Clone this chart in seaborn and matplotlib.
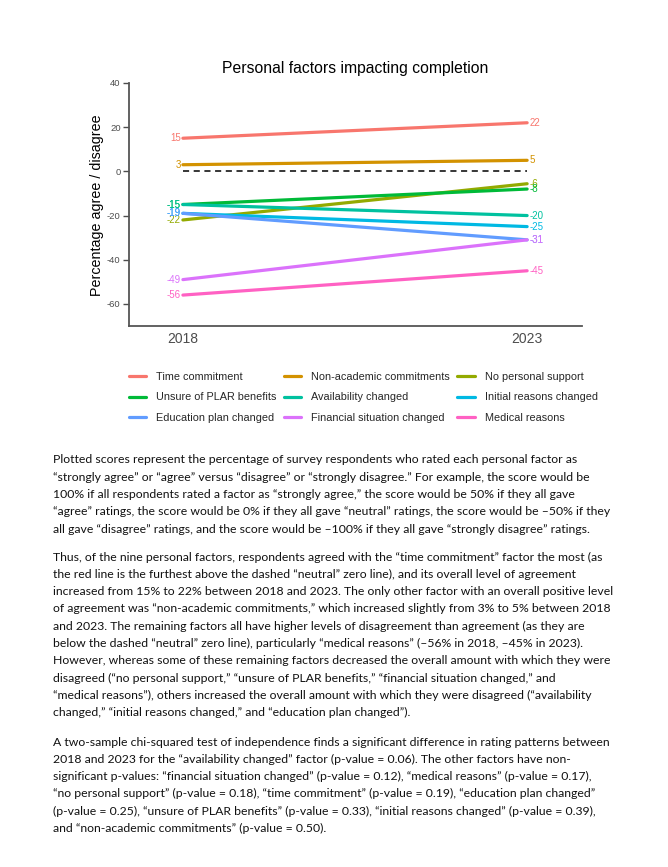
import numpy as np
import pandas as pd
import matplotlib
matplotlib.use("Agg")
import matplotlib.pyplot as plt
import seaborn as sns

# data
factors = ["Time commitment", "Non-academic commitments", "No personal support",
           "Unsure of PLAR benefits", "Availability changed", "Initial reasons changed",
           "Education plan changed", "Financial situation changed", "Medical reasons"]
years = [2018, 2023]
score_2018 = [15, 3, -22, -15, -15, -19, -19, -49, -56]
score_2023 = [22, 5, -5.6, -8, -20, -25, -31, -31, -45]
colors = ["#F8766D", "#D39200", "#93AA00", "#00BA38", "#00C19F",
          "#00B9E3", "#619CFF", "#DB72FB", "#FF61C3"]
yticks = [40, 20, 0, -20, -40, -60]

para1 = [
    "Plotted scores represent the percentage of survey respondents who rated each personal factor as",
    "\u201cstrongly agree\u201d or \u201cagree\u201d versus \u201cdisagree\u201d or \u201cstrongly disagree.\u201d For example, the score would be",
    "100% if all respondents rated a factor as \u201cstrongly agree,\u201d the score would be 50% if they all gave",
    "\u201cagree\u201d ratings, the score would be 0% if they all gave \u201cneutral\u201d ratings, the score would be \u201350% if they",
    "all gave \u201cdisagree\u201d ratings, and the score would be \u2013100% if they all gave \u201cstrongly disagree\u201d ratings.",
]
para2 = [
    "Thus, of the nine personal factors, respondents agreed with the \u201ctime commitment\u201d factor the most (as",
    "the red line is the furthest above the dashed \u201cneutral\u201d zero line), and its overall level of agreement",
    "increased from 15% to 22% between 2018 and 2023. The only other factor with an overall positive level",
    "of agreement was \u201cnon-academic commitments,\u201d which increased slightly from 3% to 5% between 2018",
    "and 2023. The remaining factors all have higher levels of disagreement than agreement (as they are",
    "below the dashed \u201cneutral\u201d zero line), particularly \u201cmedical reasons\u201d (\u201356% in 2018, \u201345% in 2023).",
    "However, whereas some of these remaining factors decreased the overall amount with which they were",
    "disagreed (\u201cno personal support,\u201d \u201cunsure of PLAR benefits,\u201d \u201cfinancial situation changed,\u201d and",
    "\u201cmedical reasons\u201d), others increased the overall amount with which they were disagreed (\u201cavailability",
    "changed,\u201d \u201cinitial reasons changed,\u201d and \u201ceducation plan changed\u201d).",
]
para3 = [
    "A two-sample chi-squared test of independence finds a significant difference in rating patterns between",
    "2018 and 2023 for the \u201cavailability changed\u201d factor (p-value = 0.06). The other factors have non-",
    "significant p-values: \u201cfinancial situation changed\u201d (p-value = 0.12), \u201cmedical reasons\u201d (p-value = 0.17),",
    "\u201cno personal support\u201d (p-value = 0.18), \u201ctime commitment\u201d (p-value = 0.19), \u201ceducation plan changed\u201d",
    "(p-value = 0.25), \u201cunsure of PLAR benefits\u201d (p-value = 0.33), \u201cinitial reasons changed\u201d (p-value = 0.39),",
    "and \u201cnon-academic commitments\u201d (p-value = 0.50).",
]

df = pd.DataFrame({
    "factor": factors * 2,
    "year": [years[0]] * len(factors) + [years[1]] * len(factors),
    "score": score_2018 + score_2023,
})

sns.set_theme(style="white")
plt.rcParams["font.family"] = ["Liberation Sans", "DejaVu Sans"]
plt.rcParams["axes.unicode_minus"] = False

W, H = 668, 867
fig = plt.figure(figsize=(W / 100, H / 100), dpi=100)
ax = fig.add_axes([129 / W, 1 - 326 / H, (582 - 129) / W, (326 - 83) / H])

pal = dict(zip(factors, colors))
sns.lineplot(data=df, x="year", y="score", hue="factor", hue_order=factors,
             palette=pal, linewidth=2.3, ax=ax)
handles, labels = ax.get_legend_handles_labels()
ax.get_legend().remove()

ax.hlines(0, years[0], years[1], colors="black", linestyles=(0, (4, 3)), linewidth=1.1)

for f, a, b in zip(factors, score_2018, score_2023):
    ax.text(years[0] - 0.03, a, f"{round(a):d}", color=pal[f], fontsize=7, ha="right", va="center")
    ax.text(years[1] + 0.03, b, f"{round(b):d}", color=pal[f], fontsize=7, ha="left", va="center")

ax.set_xlim(2017.217, 2023.797)
ax.set_ylim(-70, 40)
ax.set_xticks(years)
ax.set_yticks(yticks)
ax.set_xlabel("")
ax.set_ylabel("")
ax.tick_params(axis="x", length=0, pad=4, labelsize=10, labelcolor="#4d4d4d")
ax.tick_params(axis="y", length=4, width=1, color="#4d4d4d", pad=2,
               labelsize=6.8, labelcolor="#4d4d4d", left=True)
for s in ["top", "right"]:
    ax.spines[s].set_visible(False)
for s in ["left", "bottom"]:
    ax.spines[s].set_color("#555555")
    ax.spines[s].set_linewidth(1.3)

fig.text(355 / W, 1 - 68 / H, "Personal factors impacting completion", fontsize=11.3,
         ha="center", va="center", color="black")
fig.text(97 / W, 1 - 205 / H, "Percentage agree / disagree", fontsize=10.3,
         rotation=90, ha="center", va="center", color="black")

order = [0, 3, 6, 1, 4, 7, 2, 5, 8]
fig.legend([handles[i] for i in order], [labels[i] for i in order],
           loc="upper left", bbox_to_anchor=(129 / W, 1 - 372 / H), ncol=3,
           frameon=False, fontsize=7.8, borderpad=0, borderaxespad=0,
           handlelength=1.6, handletextpad=0.9, columnspacing=0.7, labelspacing=0.95)

# body text
body_font = ["Lato", "DejaVu Sans"]
for lines, y0 in [(para1, 460), (para2, 557), (para3, 742)]:
    for i, line in enumerate(lines):
        fig.text(53 / W, 1 - (y0 + i * 17.3) / H, line, fontsize=8.8, family=body_font,
                 ha="left", va="center", color="#111111")

fig.savefig("out.png", dpi=100)
